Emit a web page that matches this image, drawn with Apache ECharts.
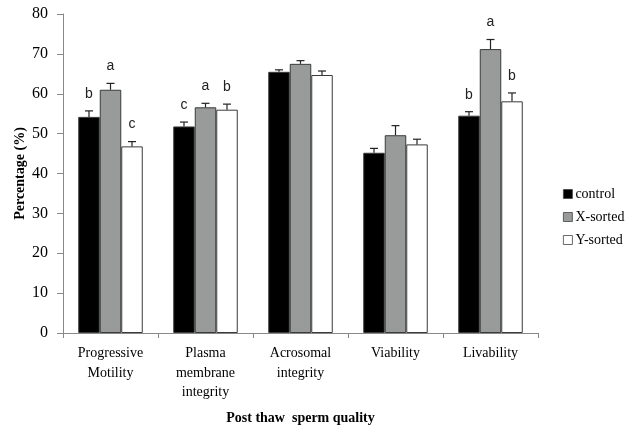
<!DOCTYPE html>
<html>
<head>
<meta charset="utf-8">
<script src="https://cdn.jsdelivr.net/npm/echarts@6/dist/echarts.min.js"></script>
<style>
html,body{margin:0;padding:0;background:#fff;}
#main{width:635px;height:428px;}
</style>
</head>
<body>
<div id="main"></div>
<script>
// 数据
var categories=['Progressive\nMotility','Plasma\nmembrane\nintegrity','Acrosomal\nintegrity','Viability','Livability'];
var seriesNames=['control','X-sorted','Y-sorted'];
var controlVals=[54.2,51.8,65.5,45.2,54.5];
var xSortedVals=[61.0,56.6,67.5,49.6,71.2];
var ySortedVals=[46.8,56.0,64.7,47.3,58.1];
var controlErr=[1.5,1.1,0.5,1.1,1.0];
var xSortedErr=[1.6,1.0,0.8,2.4,2.4];
var ySortedErr=[1.2,1.4,1.0,1.3,2.1];
var controlLetters=['b','c','','','b'];
var xSortedLetters=['a','a','','','a'];
var ySortedLetters=['c','b','','','b'];
var yTicks=[0,10,20,30,40,50,60,70,80];

var chart=echarts.init(document.getElementById('main'));
var serif='"Liberation Serif","Times New Roman",serif';
var colors=['#000000','#999b9b','#ffffff'];
var barW=21.5;

var values=[controlVals,xSortedVals,ySortedVals];
var errs=[controlErr,xSortedErr,ySortedErr];
var letters=[controlLetters,xSortedLetters,ySortedLetters];

var series=[];
// 柱子
for(var i=0;i<3;i++){
	series.push({
		name:seriesNames[i],
		type:'bar',
		data:values[i],
		barWidth:barW,
		barGap:'0%',
		itemStyle:{color:colors[i],borderColor:'#3a3a3a',borderWidth:1},
		z:2
	});
}
// 误差线和字母
for(var i=0;i<3;i++){
	(function(k){
		var d=[];
		for(var j=0;j<categories.length;j++){
			d.push([j,values[k][j],errs[k][j],letters[k][j]]);
		}
		series.push({
			type:'custom',
			data:d,
			z:3,
			silent:true,
			renderItem:function(params,api){
				var x=api.coord([api.value(0),0])[0]+(k-1)*barW;
				var top=api.coord([api.value(0),api.value(1)])[1];
				var eTop=api.coord([api.value(0),api.value(1)+api.value(2)])[1];
				var st={stroke:'#222',lineWidth:1.2};
				var kids=[
					{type:'line',shape:{x1:x,y1:top,x2:x,y2:eTop},style:st},
					{type:'line',shape:{x1:x-4,y1:eTop,x2:x+4,y2:eTop},style:st}
				];
				var lt=d[params.dataIndex][3];
				if(lt){
					kids.push({type:'text',style:{text:lt,x:x,y:eTop-10,align:'center',verticalAlign:'bottom',
						fill:'#222',font:'14px "Liberation Sans",Arial,sans-serif'}});
				}
				return {type:'group',children:kids};
			}
		});
	})(i);
}

var option={
	animation:false,
	grid:{left:63,right:97,top:14,bottom:95,outerBoundsMode:'none',containLabel:false},
	legend:{
		orient:'vertical',
		left:558,
		top:182,
		itemWidth:9,
		itemHeight:9,
		itemGap:9,
		data:seriesNames.map(function(n,i){
			return {name:n,icon:'rect',itemStyle:{color:colors[i],borderColor:'#444',borderWidth:0.8}};
		}),
		textStyle:{fontFamily:serif,fontSize:14,color:'#000',padding:[0,0,0,-2]}
	},
	xAxis:{
		type:'category',
		data:categories,
		name:'Post thaw  sperm quality',
		nameLocation:'middle',
		nameGap:78,
		nameMoveOverlap:false,
		nameTextStyle:{fontFamily:serif,fontSize:14,fontWeight:'bold',color:'#000'},
		axisLine:{lineStyle:{color:'#888',width:1}},
		axisTick:{show:true,length:5,lineStyle:{color:'#888'}},
		axisLabel:{fontFamily:serif,fontSize:14,color:'#000',lineHeight:19.5,margin:11,interval:0}
	},
	yAxis:{
		type:'value',
		min:yTicks[0],
		max:yTicks[yTicks.length-1],
		interval:10,
		name:'Percentage (%)',
		nameLocation:'middle',
		nameGap:36,
		nameMoveOverlap:false,
		nameTextStyle:{fontFamily:serif,fontSize:14,fontWeight:'bold',color:'#000'},
		axisLine:{show:true,lineStyle:{color:'#888',width:1}},
		axisTick:{show:true,length:6,lineStyle:{color:'#888'}},
		axisLabel:{fontFamily:serif,fontSize:16,color:'#000',margin:15},
		splitLine:{show:false}
	},
	series:series
};
chart.setOption(option);
</script>
</body>
</html>
